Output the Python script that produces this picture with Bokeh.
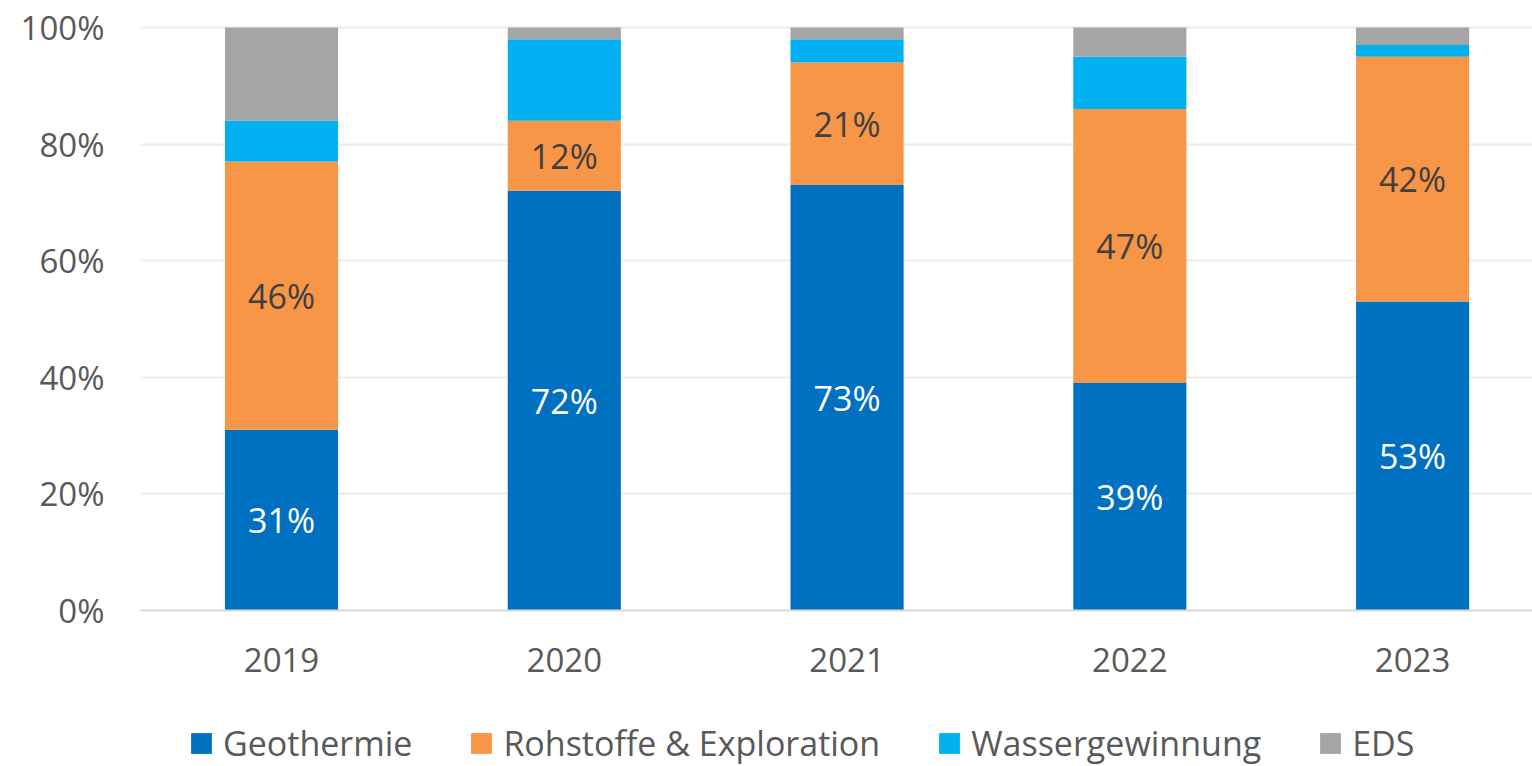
from bokeh.plotting import figure
from bokeh.models import (ColumnDataSource, Range1d, FixedTicker, PrintfTickFormatter,
                          Legend, LegendItem)
from bokeh.core.properties import value
from bokeh.embed import file_html
from bokeh.resources import INLINE

years = ["2019", "2020", "2021", "2022", "2023"]
series = ["Geothermie", "Rohstoffe & Exploration", "Wassergewinnung", "EDS"]
geothermie = [31, 72, 73, 39, 53]
rohstoffe = [46, 12, 21, 47, 42]
wasser = [7, 14, 4, 9, 2]
eds = [16, 2, 2, 5, 3]
colors = ["#0070C0", "#F79646", "#00B0F0", "#A5A5A5"]
y_ticks = [0, 20, 40, 60, 80, 100]

FONT = "Open Sans"
GREY = "#595959"

xs = list(range(len(years)))
src = ColumnDataSource(dict(x=xs, geo=geothermie, roh=rohstoffe, was=wasser, eds=eds))

# frame spans the whole height; the x axis is pinned at y=0 inside it
p = figure(width=1532, height=766, output_backend="svg", toolbar_location=None,
           x_range=Range1d(-0.4987, 4.424), y_range=Range1d(-26.76, 101.2),
           min_border_left=140, min_border_right=0, min_border_top=20,
           min_border_bottom=0, outline_line_color=None)

rs = p.vbar_stack(["geo", "roh", "was", "eds"], x="x", width=0.4, source=src,
                  color=colors, line_color=None)

# data labels
lab_geo = ColumnDataSource(dict(x=xs, y=[g / 2 for g in geothermie],
                                t=[f"{g}%" for g in geothermie]))
lab_roh = ColumnDataSource(dict(x=xs, y=[g + r / 2 for g, r in zip(geothermie, rohstoffe)],
                                t=[f"{r}%" for r in rohstoffe]))
p.text(x="x", y="y", text="t", source=lab_geo, text_color="white",
       text_font=value(FONT), text_font_size="34px", text_align="center",
       text_baseline="middle")
p.text(x="x", y="y", text="t", source=lab_roh, text_color="#404040",
       text_font=value(FONT), text_font_size="34px", text_align="center",
       text_baseline="middle")

# axes
p.xaxis.fixed_location = 0
p.xaxis.ticker = FixedTicker(ticks=xs)
p.xaxis.major_label_overrides = {i: y for i, y in enumerate(years)}
p.xaxis.major_tick_line_color = None
p.xaxis.minor_tick_line_color = None
p.xaxis.axis_line_color = "#D9D9D9"
p.xaxis.axis_line_width = 2
p.xaxis.major_label_standoff = 32
p.xaxis.major_label_text_font = FONT
p.xaxis.major_label_text_font_size = "33px"
p.xaxis.major_label_text_color = GREY

p.yaxis.ticker = FixedTicker(ticks=y_ticks)
p.yaxis.formatter = PrintfTickFormatter(format="%d%%")
p.yaxis.major_tick_line_color = None
p.yaxis.minor_tick_line_color = None
p.yaxis.axis_line_color = None
p.yaxis.major_label_standoff = 30
p.yaxis.major_label_text_font = FONT
p.yaxis.major_label_text_font_size = "33px"
p.yaxis.major_label_text_color = GREY

p.xgrid.grid_line_color = None
p.ygrid.ticker = FixedTicker(ticks=y_ticks[1:])
p.ygrid.grid_line_color = "#EBEBEB"
p.ygrid.grid_line_width = 2

legend = Legend(items=[LegendItem(label=s, renderers=[r]) for s, r in zip(series, rs)],
                location=(48, 0), orientation="horizontal",
                label_text_font=FONT, label_text_font_size="34px",
                label_text_color=GREY, glyph_width=26, glyph_height=26,
                label_standoff=9, spacing=56, padding=0, margin=0,
                border_line_color=None, background_fill_alpha=0)
p.add_layout(legend, "center")

open("out.html", "w").write(file_html(p, INLINE))
